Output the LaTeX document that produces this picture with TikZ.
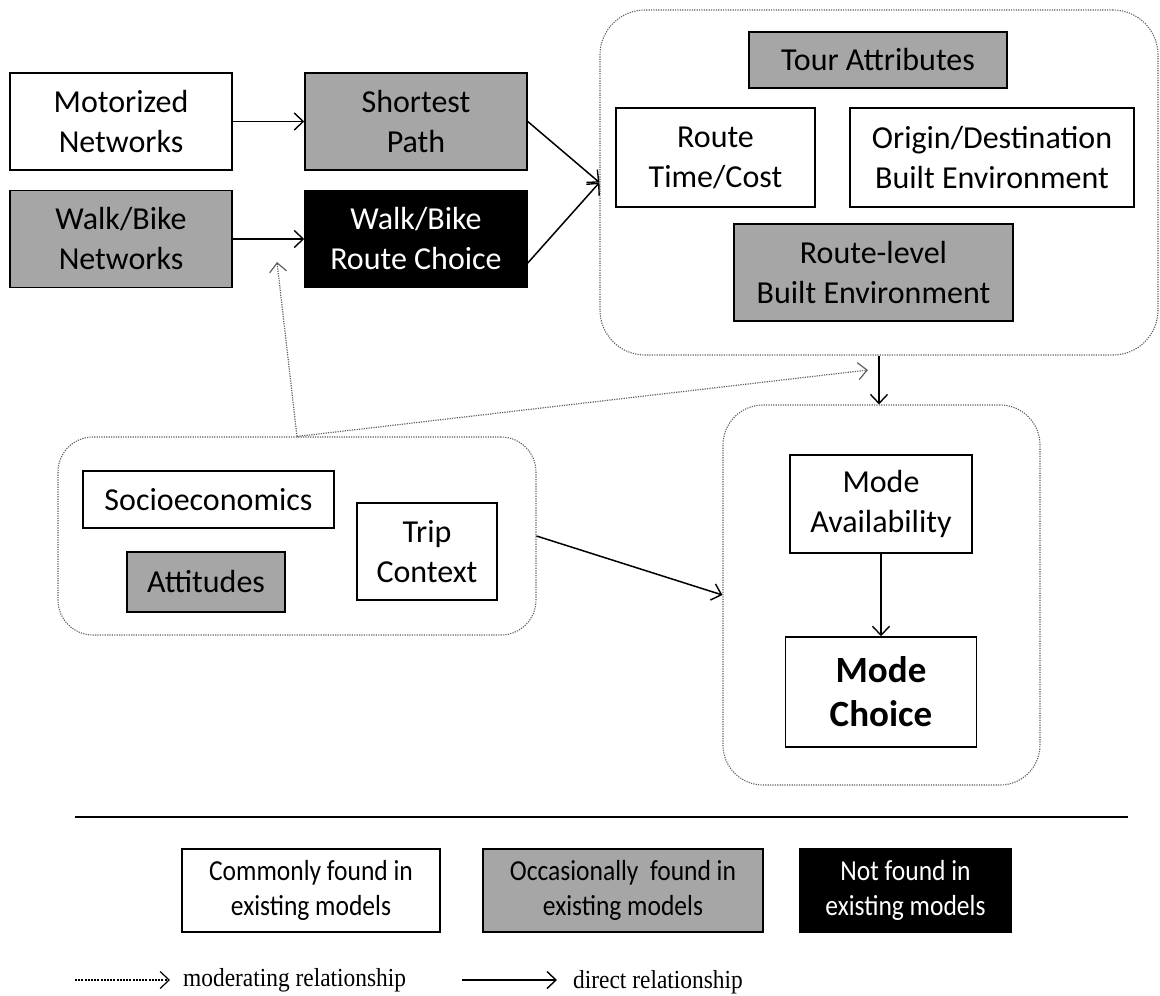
\documentclass[tikz,border=0pt]{standalone}
\usepackage{fontspec}
\setmainfont{Carlito}
\newfontfamily\legserif{Liberation Serif}
\usetikzlibrary{arrows.meta,calc}
\definecolor{boxgray}{RGB}{166,166,166}
\definecolor{dotgray}{RGB}{95,95,95}
\newcommand{\cond}[1]{\scalebox{0.88}[1]{#1}}
\begin{document}
\begin{tikzpicture}[x=1pt,y=-1pt,
  box/.style={draw=black, line width=1.5pt, align=center, inner sep=0pt, font=\fontsize{32}{40}\selectfont, text=black},
  wbox/.style={box, fill=white},
  gbox/.style={box, fill=boxgray},
  bbox/.style={box, fill=black, text=white},
  group/.style={draw=dotgray, dash pattern=on 1.2pt off 1.2pt, line width=1.1pt, rounded corners=#1, inner sep=0pt},
  direct/.style={line width=1.5pt, -{Straight Barb[length=9pt,width=17pt,line width=1.4pt]}},
  moder/.style={draw=dotgray, line width=1.2pt, dash pattern=on 1.2pt off 1.2pt, -{Straight Barb[length=9pt,width=17pt,line width=1.2pt]}},
  legbox/.style={draw=black, line width=1.5pt, align=center, inner sep=0pt, minimum height=83pt, font=\fontsize{29}{35}\selectfont},
  legtext/.style={anchor=west, inner sep=0pt, font=\legserif\fontsize{26}{28}\selectfont}
]
\useasboundingbox (0,0) rectangle (1160,996);

% containers
\node[group=45, minimum width=558pt, minimum height=345pt] (topbox) at (879,182.5) {};
\node[group=35, minimum width=478pt, minimum height=198pt] (leftbox) at (297,536) {};
\node[group=40, minimum width=317pt, minimum height=380pt] (modebox) at (881.5,595) {};

% left column
\node[wbox, minimum width=222pt, minimum height=97pt] (mot) at (121,121.5) {Motorized\\Networks};
\node[gbox, minimum width=222pt, minimum height=97pt] (sp) at (416,121.5) {Shortest\\Path};
\node[gbox, minimum width=222pt, minimum height=97pt] (wbn) at (121,239) {Walk/Bike\\Networks};
\node[bbox, minimum width=222pt, minimum height=97pt] (wbr) at (416,239) {Walk/Bike\\Route Choice};

% top container content
\node[gbox, minimum width=258pt, minimum height=56pt] (tour) at (878,60) {Tour Attributes};
\node[wbox, minimum width=199pt, minimum height=99pt] (rtc) at (715.5,157.5) {Route\\Time/Cost};
\node[wbox, minimum width=284pt, minimum height=99pt] (od) at (992,157.5) {Origin/Destination\\Built Environment};
\node[gbox, minimum width=279pt, minimum height=97pt] (rbe) at (873.5,272.5) {Route-level\\Built Environment};

% left container content
\node[wbox, minimum width=251pt, minimum height=57pt] (socio) at (208.5,499.5) {Socioeconomics};
\node[gbox, minimum width=158pt, minimum height=60pt] (att) at (206,582) {Attitudes};
\node[wbox, minimum width=140pt, minimum height=97pt] (trip) at (427,551.5) {Trip\\Context};

% mode container content
\node[wbox, minimum width=182pt, minimum height=98pt] (avail) at (881,504) {Mode\\Availability};
\node[wbox, minimum width=191pt, minimum height=110pt, font=\bfseries\fontsize{37}{44}\selectfont] (choice) at (881,692) {Mode\\Choice};

% direct relationships
\draw[direct] (mot.east) -- (sp.west);
\draw[direct] (wbn.east) -- (wbr.west);
\draw[direct] (sp.east) -- (topbox.west);
\draw[direct] ([yshift=-24pt]wbr.east) -- (topbox.west);
\draw[direct] (topbox.south) -- (topbox.south |- modebox.north);
\draw[direct] (leftbox.east) -- (modebox.west);
\draw[direct] (avail.south) -- (choice.north);

% moderating relationships
\coordinate (m1) at (277,262);
\coordinate (m2) at (868,370);
\draw[moder] (leftbox.north) -- (m1);
\draw[moder] (leftbox.north) -- (m2);

% separator
\coordinate (h1) at (75,817);
\coordinate (h2) at (1128,817);
\draw[line width=1.3pt] (h1) -- (h2);

% legend boxes
\node[legbox, fill=white, minimum width=258pt] (leg1) at (311,890.5) {\cond{Commonly found in}\\\cond{existing models}};
\node[legbox, fill=boxgray, minimum width=280pt] (leg2) at (623,890.5) {\cond{Occasionally\ \ found in}\\\cond{existing models}};
\node[legbox, fill=black, text=white, minimum width=211pt] (leg3) at (905.5,890.5) {\cond{Not found in}\\\cond{existing models}};

% legend arrows
\coordinate (ld1) at (75,980);
\coordinate (ld2) at (170,980);
\draw[moder, draw=black, dash pattern=on 2pt off 1.2pt] (ld1) -- (ld2);
\node[legtext] (lmod) at (183,980) {\scalebox{0.9}[1]{moderating relationship}};
\coordinate (ls1) at (462,980);
\coordinate (ls2) at (557,980);
\draw[direct] (ls1) -- (ls2);
\node[legtext] (ldir) at (573,982) {\scalebox{0.9}[1]{direct relationship}};
\end{tikzpicture}
\end{document}
